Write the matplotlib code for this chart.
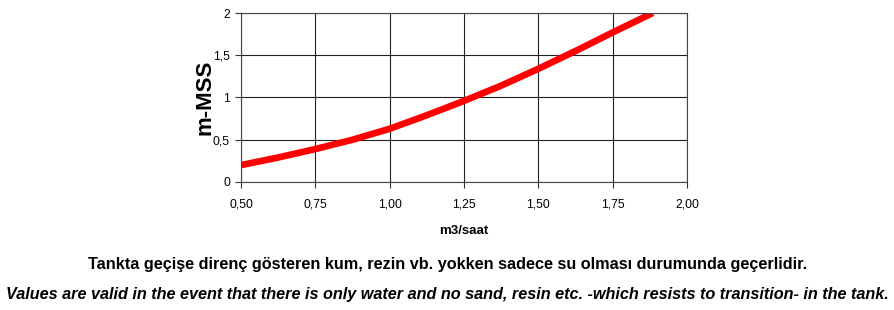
import numpy as np
import matplotlib.pyplot as plt

# flow (m3/saat) vs pressure loss (m-MSS)
flow = [0.50, 0.625, 0.75, 0.875, 1.00, 1.125, 1.25, 1.375, 1.50, 1.625, 1.75, 1.885]
loss = [0.20, 0.29, 0.39, 0.50, 0.63, 0.79, 0.96, 1.14, 1.34, 1.55, 1.77, 2.00]

x_ticks = [0.50, 0.75, 1.00, 1.25, 1.50, 1.75, 2.00]
x_labels = ['0,50', '0,75', '1,00', '1,25', '1,50', '1,75', '2,00']
y_ticks = [0, 0.5, 1, 1.5, 2]
y_labels = ['0', '0,5', '1', '1,5', '2']

note_tr = 'Tankta geçişe direnç gösteren kum, rezin vb. yokken sadece su olması durumunda geçerlidir.'
note_en = ('Values are valid in the event that there is only water and no sand, '
           'resin etc. -which resists to transition- in the tank.')

plt.rcParams['font.family'] = ['Liberation Sans', 'DejaVu Sans']

fig = plt.figure(figsize=(8.95, 3.10), dpi=100)
ax = fig.add_axes([241/895, 1 - 182/310, (687-241)/895, (182-13)/310])

ax.plot(flow, loss, color='#ff0000', lw=4.8, solid_capstyle='butt')
ax.set_xlim(0.5, 2.0)
ax.set_ylim(0, 2)
ax.set_xticks(x_ticks)
ax.set_xticklabels(x_labels)
ax.set_yticks(y_ticks)
ax.set_yticklabels(y_labels)
ax.tick_params(labelsize=8.8, length=4, width=0.8, color='#333333')
ax.tick_params(axis='x', pad=8)
ax.tick_params(axis='y', pad=4)
ax.grid(True, color='#222222', lw=0.8)
ax.set_axisbelow(True)
for s in ax.spines.values():
    s.set_color('#444444')
    s.set_linewidth(0.8)

ax.set_xlabel('m3/saat', fontsize=9.5, fontweight='bold', labelpad=10)
ax.set_ylabel('m-MSS', fontsize=16, fontweight='bold', labelpad=-2)

fig.text(0.5, 1 - 265/310, note_tr, ha='center', va='center', fontsize=11.7,
         fontweight='bold')
fig.text(0.5, 1 - 294/310, note_en, ha='center', va='center', fontsize=11.7,
         fontweight='bold', style='italic')

fig.savefig('out.png', dpi=100)
